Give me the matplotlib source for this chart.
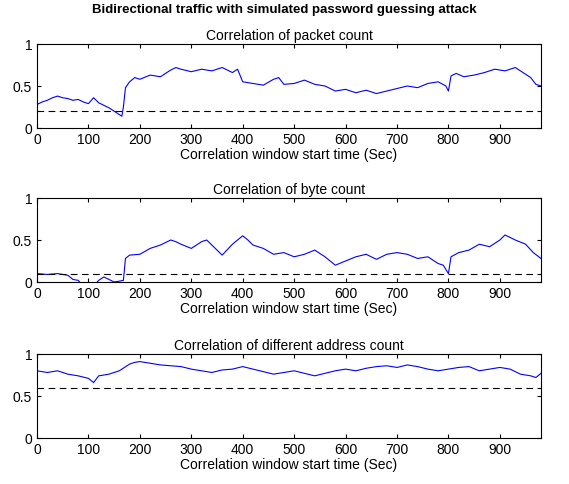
import matplotlib.pyplot as plt
import numpy as np

t1 = [0, 10, 20, 30, 40, 50, 60, 70, 80, 90, 100, 110, 120, 130, 140, 150, 160, 165, 168, 172, 180, 190, 200, 220, 240, 260, 270, 280, 300, 320, 340, 360, 380, 390, 400, 420, 440, 460, 470, 480, 500, 520, 540, 560, 580, 600, 620, 640, 660, 680, 700, 720, 740, 760, 780, 795, 800, 805, 815, 830, 850, 870, 890, 910, 930, 950, 960, 970, 980]
v1 = [0.28, 0.31, 0.33, 0.36, 0.38, 0.36, 0.35, 0.33, 0.34, 0.31, 0.29, 0.36, 0.30, 0.27, 0.24, 0.20, 0.16, 0.14, 0.25, 0.48, 0.55, 0.60, 0.58, 0.63, 0.61, 0.69, 0.72, 0.70, 0.67, 0.70, 0.68, 0.72, 0.66, 0.70, 0.55, 0.53, 0.51, 0.58, 0.60, 0.52, 0.53, 0.57, 0.52, 0.50, 0.44, 0.46, 0.42, 0.45, 0.41, 0.44, 0.47, 0.50, 0.48, 0.53, 0.55, 0.50, 0.44, 0.62, 0.65, 0.61, 0.63, 0.66, 0.70, 0.68, 0.72, 0.64, 0.60, 0.52, 0.50]

t2 = [0, 20, 40, 60, 70, 80, 90, 100, 110, 120, 130, 140, 150, 160, 168, 172, 180, 200, 220, 240, 260, 270, 280, 300, 320, 330, 350, 360, 380, 400, 410, 420, 440, 460, 480, 500, 520, 540, 560, 580, 600, 620, 640, 660, 680, 700, 720, 740, 760, 780, 790, 800, 805, 820, 840, 860, 880, 900, 910, 930, 950, 965, 980]
v2 = [0.10, 0.09, 0.10, 0.08, 0.03, 0.02, -0.05, -0.08, -0.05, 0.02, 0.06, 0.03, 0.00, 0.01, 0.02, 0.28, 0.32, 0.33, 0.40, 0.44, 0.50, 0.48, 0.45, 0.40, 0.48, 0.50, 0.38, 0.32, 0.45, 0.55, 0.50, 0.44, 0.40, 0.33, 0.35, 0.30, 0.33, 0.38, 0.30, 0.20, 0.25, 0.30, 0.33, 0.27, 0.33, 0.35, 0.33, 0.28, 0.30, 0.22, 0.20, 0.10, 0.30, 0.35, 0.38, 0.45, 0.42, 0.50, 0.56, 0.50, 0.45, 0.35, 0.28]

t3 = [0, 20, 40, 60, 80, 100, 110, 120, 140, 160, 180, 190, 200, 220, 240, 260, 280, 300, 320, 340, 360, 380, 400, 420, 440, 460, 480, 500, 520, 540, 560, 580, 600, 620, 640, 660, 680, 700, 720, 740, 760, 780, 800, 820, 840, 860, 880, 900, 920, 940, 960, 970, 980]
v3 = [0.80, 0.78, 0.80, 0.76, 0.74, 0.71, 0.66, 0.74, 0.76, 0.80, 0.88, 0.90, 0.91, 0.89, 0.87, 0.86, 0.85, 0.82, 0.80, 0.78, 0.81, 0.82, 0.85, 0.82, 0.79, 0.76, 0.78, 0.80, 0.77, 0.74, 0.77, 0.80, 0.82, 0.80, 0.83, 0.85, 0.86, 0.84, 0.87, 0.85, 0.82, 0.80, 0.82, 0.84, 0.85, 0.80, 0.82, 0.84, 0.82, 0.76, 0.74, 0.72, 0.77]

thresholds = [0.2, 0.1, 0.6]
titles = ['Correlation of packet count', 'Correlation of byte count',
          'Correlation of different address count']
xticks = [0, 100, 200, 300, 400, 500, 600, 700, 800, 900]

plt.rcParams['font.family'] = 'Liberation Sans'
plt.rcParams['font.size'] = 10
fig = plt.figure(figsize=(5.69, 4.84), dpi=100)
tops = [44, 198, 354]
data = [(t1, v1), (t2, v2), (t3, v3)]
for i in range(3):
    ax = fig.add_axes([37/569, 1 - (tops[i] + 84)/484, 504/569, 84/484])
    t, v = data[i]
    ax.plot(t, v, color='#0000ff', lw=0.8)
    ax.axhline(thresholds[i], color='k', ls=(0, (6, 4)), lw=0.8)
    ax.set_xlim(0, 980)
    ax.set_ylim(0, 1)
    ax.set_xticks(xticks)
    ax.set_yticks([0, 0.5, 1])
    ax.set_yticklabels(['0', '0.5', '1'])
    ax.tick_params(direction='in', length=3, top=True, right=True)
    ax.set_title(titles[i], fontsize=10, pad=3)
    ax.set_xlabel('Correlation window start time (Sec)', labelpad=1)
fig.text(0.5, 1 - 10/484, 'Bidirectional traffic with simulated password guessing attack',
         ha='center', va='center', fontweight='bold', fontsize=9.5)
fig.savefig('out.png')
